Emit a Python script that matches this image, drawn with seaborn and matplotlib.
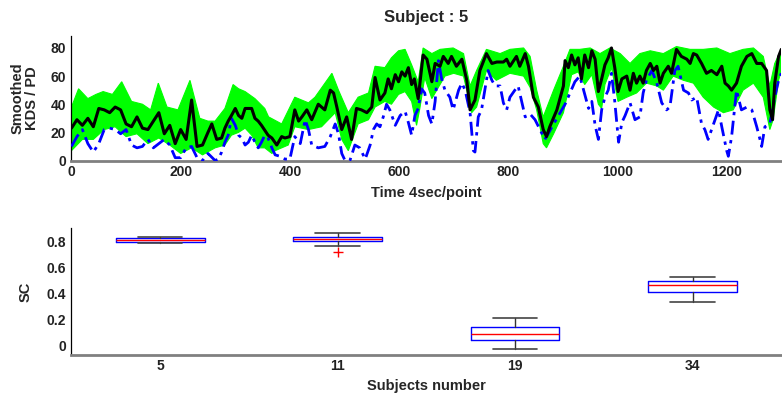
import numpy as np
import matplotlib
matplotlib.use('Agg')
import matplotlib.pyplot as plt
import seaborn as sns

# ---------------------------------------------------------------
# Top panel: smoothed KDS / PD, subject 5
# ---------------------------------------------------------------
# black curve (mean KDS)
kds_t = [0, 10, 20, 30, 40, 50, 60, 70, 80, 90, 100, 110, 120, 130, 140, 150, 160,
         170, 180, 190, 200, 210, 220, 230, 240, 250, 257, 266, 275, 281, 287, 293,
         300, 306, 312, 318, 330, 336, 342, 348, 360, 367, 376, 385, 391, 400, 409,
         416, 422, 431, 440, 452, 464, 474, 480, 486, 495, 504, 513, 522, 531, 541,
         550, 556, 565, 574, 580, 586, 593, 599, 605, 611, 617, 623, 628, 635, 644,
         651, 660, 666, 675, 681, 690, 696, 705, 715, 724, 730, 739, 748, 760, 770,
         779, 791, 797, 803, 815, 821, 831, 837, 846, 855, 864, 870, 876, 889, 901,
         904, 910, 916, 922, 928, 934, 940, 947, 953, 959, 965, 971, 977, 983, 989,
         995, 1001, 1008, 1017, 1023, 1029, 1035, 1041, 1047, 1053, 1060, 1066, 1072,
         1078, 1084, 1093, 1099, 1108, 1117, 1127, 1133, 1139, 1145, 1154, 1163, 1172,
         1182, 1191, 1197, 1203, 1209, 1218, 1227, 1237, 1246, 1255, 1264, 1273, 1279,
         1284, 1288, 1295, 1300]
kds_v = [23, 29, 25, 30, 24, 37, 36, 34, 38, 36, 26, 24, 31, 23, 22, 28, 34,
         19, 25, 12, 22, 15, 43, 10, 11, 20, 26, 15, 16, 23, 28, 32,
         37, 32, 30, 37, 37, 30, 28, 25, 18, 16, 11, 17, 16, 17, 36,
         28, 31, 36, 29, 40, 36, 50, 48, 38, 22, 31, 15, 37, 36, 34,
         38, 59, 43, 48, 58, 51, 61, 56, 63, 60, 66, 54, 58, 44, 75,
         72, 56, 69, 67, 74, 69, 74, 67, 72, 57, 36, 43, 64, 76, 69,
         70, 70, 72, 67, 74, 67, 76, 67, 45, 38, 22, 17, 24, 36, 53,
         71, 66, 75, 68, 73, 58, 75, 66, 78, 72, 49, 58, 68, 73, 80,
         66, 49, 58, 60, 50, 62, 55, 60, 55, 64, 69, 64, 67,
         55, 62, 67, 62, 79, 74, 72, 69, 76, 75, 69, 62, 64,
         61, 67, 55, 53, 50, 55, 67, 74, 76, 69, 69, 64, 36,
         29, 55, 74, 79]

# blue dash-dot curve (PD)
pd_t = [0, 10, 20, 30, 40, 50, 60, 70, 80, 90, 100, 110, 120, 130, 140, 150, 160,
        170, 180, 190, 200, 210, 220, 230, 240, 250, 263, 269, 275, 281, 287, 293,
        300, 306, 312, 318, 324, 330, 336, 342, 348, 354, 360, 367, 373, 382, 391,
        400, 409, 419, 428, 434, 440, 452, 464, 474, 483, 489, 495, 501, 510, 519,
        528, 538, 547, 553, 559, 565, 571, 577, 583, 593, 602, 611, 617, 623, 629,
        635, 641, 647, 654, 660, 666, 672, 678, 684, 693, 699, 709, 715, 721, 730,
        736, 739, 745, 751, 757, 763, 770, 776, 785, 791, 797, 803, 812, 818, 825,
        831, 840, 849, 858, 867, 873, 883, 895, 904, 913, 922, 931, 940, 947, 953,
        959, 965, 971, 977, 983, 989, 995, 1002, 1008, 1014, 1023, 1032, 1041, 1047,
        1053, 1063, 1072, 1081, 1090, 1096, 1105, 1111, 1121, 1130, 1136, 1145, 1154,
        1160, 1166, 1176, 1185, 1191, 1200, 1203, 1209, 1218, 1227, 1237, 1246, 1255,
        1261, 1264, 1270, 1279, 1288, 1295, 1300]
pd_v = [10, 17, 22, 12, 6, 12, 22, 23, 22, 19, 22, 11, 9, 10, 15, 9, 12,
        15, 11, 2, 2, 9, 10, 2, 0, 5, 0, 1, 6, 13, 18, 30,
        25, 18, 16, 11, 13, 18, 13, 9, 13, 18, 16, 9, 4, 3, 1,
        1, 17, 12, 29, 22, 11, 9, 10, 17, 26, 19, 5, 0, 0, 11,
        9, 1, 11, 22, 26, 24, 31, 40, 36, 25, 32, 35, 27, 18, 32,
        37, 51, 48, 32, 26, 42, 71, 58, 50, 45, 36, 50, 55, 50, 34,
        7, 6, 31, 36, 50, 64, 57, 53, 53, 41, 36, 45, 50, 53, 41,
        31, 33, 29, 22, 15, 19, 26, 34, 40, 48, 56, 60, 47, 37, 42,
        25, 15, 36, 45, 50, 62, 42, 13, 27, 32, 41, 29, 31, 48,
        57, 64, 55, 41, 36, 38, 64, 67, 50, 48, 43, 45, 26,
        22, 15, 26, 36, 24, 7, 3, 17, 50, 36, 38, 36, 24,
        15, 10, 24, 26, 45, 57, 62]

# green bundle of individual curves: upper and lower envelope
band_hi_t = [0, 13, 30, 45, 58, 75, 92, 110, 130, 145, 159, 175, 195, 217, 235, 250,
             263, 281, 296, 306, 318, 336, 354, 361, 385, 409, 434, 446, 477, 489, 507,
             525, 544, 556, 574, 586, 599, 611, 623, 635, 644, 660, 675, 699, 718, 730,
             742, 760, 785, 803, 828, 840, 852, 864, 883, 901, 913, 931, 950, 968, 986,
             1005, 1023, 1041, 1060, 1084, 1108, 1133, 1157, 1182, 1206, 1230, 1249,
             1267, 1279, 1288, 1300]
band_hi_v = [38, 51, 44, 47, 49, 47, 56, 42, 40, 36, 55, 38, 36, 57, 30, 28,
             28, 37, 54, 51, 49, 44, 37, 31, 26, 45, 41, 45, 62, 50, 34,
             45, 48, 67, 66, 73, 78, 79, 68, 56, 80, 76, 79, 80, 76, 53,
             64, 79, 76, 79, 80, 74, 50, 31, 50, 67, 79, 79, 80, 76, 80,
             76, 69, 76, 78, 76, 81, 79, 79, 80, 76, 79, 80,
             74, 53, 69, 79]
band_lo_t = [0, 20, 40, 60, 80, 100, 120, 140, 160, 180, 200, 220, 240, 263, 281, 293,
             306, 318, 330, 342, 354, 367, 373, 397, 409, 434, 458, 483, 495, 507, 525,
             544, 556, 574, 586, 599, 611, 623, 632, 638, 647, 660, 672, 684, 700, 718,
             727, 733, 742, 760, 778, 803, 828, 840, 852, 864, 870, 883, 901, 916, 928,
             940, 953, 965, 971, 977, 989, 1001, 1017, 1035, 1053, 1072, 1084, 1102, 1121,
             1139, 1157, 1176, 1194, 1212, 1230, 1249, 1267, 1279, 1285, 1295, 1300]
band_lo_v = [7, 15, 15, 22, 24, 17, 19, 12, 16, 11, 5, 9, 4, 9, 11, 18,
             20, 23, 18, 9, 9, 5, 7, 11, 24, 22, 24, 34, 15, 7, 26,
             29, 38, 42, 40, 47, 49, 42, 25, 37, 59, 44, 52, 60, 62, 60,
             45, 34, 38, 64, 57, 62, 60, 52, 36, 12, 9, 19, 34, 61, 63,
             54, 61, 40, 37, 54, 66, 42, 45, 48, 55, 53, 50, 60, 57,
             55, 45, 38, 34, 36, 50, 55, 45, 22, 29, 57, 64]

# ---------------------------------------------------------------
# Bottom panel: SC per subject (box statistics)
# ---------------------------------------------------------------
subjects = ['5', '11', '19', '34']
sc_whislo = [0.788, 0.769, -0.029, 0.333]
sc_q1 = [0.795, 0.803, 0.036, 0.408]
sc_med = [0.811, 0.819, 0.085, 0.463]
sc_q3 = [0.826, 0.834, 0.137, 0.498]
sc_whishi = [0.834, 0.870, 0.212, 0.529]
sc_fliers = [[], [0.72], [], []]

sns.set_style('white')
plt.rcParams['font.family'] = ['Liberation Sans', 'DejaVu Sans']
plt.rcParams['font.weight'] = 'bold'
plt.rcParams['font.size'] = 10

fig = plt.figure(figsize=(7.82, 3.97), dpi=100)
ax1 = fig.add_axes([0.0914, 0.5957, 0.9077, 0.3136])
ax2 = fig.add_axes([0.0914, 0.1058, 0.9077, 0.3200])

# green bundle
ax1.fill(list(band_hi_t) + list(band_lo_t[::-1]),
         list(band_hi_v) + list(band_lo_v[::-1]),
         color='#00ff00', lw=0.8, zorder=1)
# blue PD curve
sns.lineplot(x=pd_t, y=pd_v, ax=ax1, color='#0000ff', lw=2.0,
             linestyle=(0, (5, 2, 1.2, 2)), zorder=3)
# black mean curve
sns.lineplot(x=kds_t, y=kds_v, ax=ax1, color='black', lw=2.2, zorder=4)

ax1.set_xlim(0, 1300)
ax1.set_ylim(0, 88.5)
ax1.set_xticks(np.arange(0, 1300, 200))
ax1.set_yticks(np.arange(0, 81, 20))
ax1.set_title('Subject : 5', fontsize=12, fontweight='bold', pad=10)
ax1.set_xlabel('Time 4sec/point', fontsize=10.5, fontweight='bold', labelpad=5)
ax1.set_ylabel('Smoothed\nKDS / PD', fontsize=10.5, fontweight='bold', labelpad=8,
               linespacing=1.1)

# box plots
stats = []
for i in range(len(subjects)):
    stats.append({'whislo': sc_whislo[i], 'q1': sc_q1[i], 'med': sc_med[i],
                  'q3': sc_q3[i], 'whishi': sc_whishi[i], 'fliers': sc_fliers[i]})
ax2.bxp(stats, positions=range(1, len(subjects) + 1), widths=0.5,
        showfliers=True,
        boxprops=dict(color='#0000ff', lw=1.0),
        medianprops=dict(color='#ff0000', lw=1.0),
        whiskerprops=dict(color='#333333', lw=1.0),
        capprops=dict(color='#444444', lw=1.2),
        capwidths=0.25,
        flierprops=dict(marker='+', markeredgecolor='#ff0000', markersize=7,
                        markeredgewidth=1.0))
ax2.set_xlim(0.5, 4.5)
ax2.set_ylim(-0.077, 0.906)
ax2.set_xticks(range(1, len(subjects) + 1))
ax2.set_xticklabels(subjects)
ax2.set_yticks([0, 0.2, 0.4, 0.6, 0.8])
ax2.set_yticklabels(['0', '0.2', '0.4', '0.6', '0.8'])
ax2.set_xlabel('Subjects number', fontsize=10.5, fontweight='bold', labelpad=4)
ax2.set_ylabel('SC', fontsize=10.5, fontweight='bold', labelpad=10)

for ax in (ax1, ax2):
    sns.despine(ax=ax, top=True, right=True)
    ax.spines['left'].set_color('black')
    ax.spines['left'].set_linewidth(0.9)
    ax.spines['bottom'].set_color('#808080')
    ax.spines['bottom'].set_linewidth(2.0)
    ax.tick_params(axis='both', direction='in', length=5, width=1.0,
                   colors='black', labelcolor='#222222', labelsize=10, pad=4)
    ax.tick_params(axis='x', pad=3)
    for lab in ax.get_xticklabels() + ax.get_yticklabels():
        lab.set_fontweight('bold')

fig.savefig('out.png', dpi=100)
